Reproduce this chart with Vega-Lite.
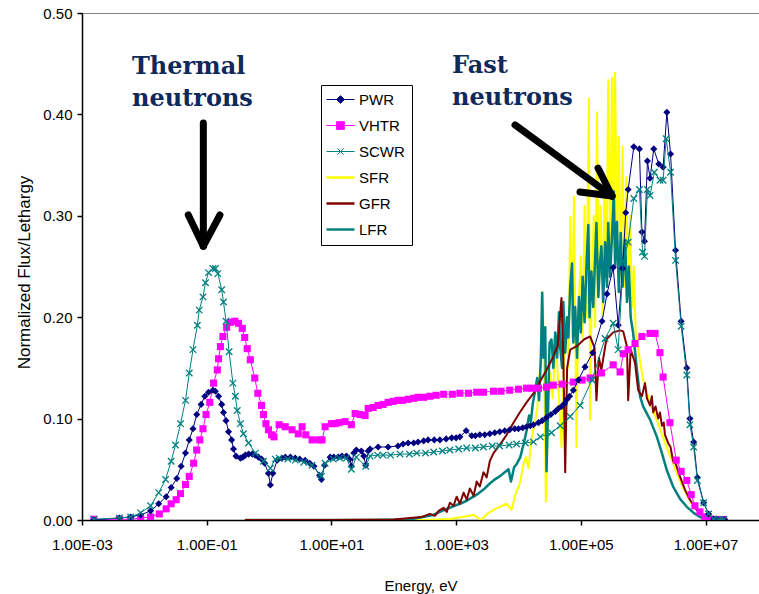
{
  "$schema": "https://vega.github.io/schema/vega-lite/v6.json",
  "width": 677,
  "height": 507,
  "autosize": "none",
  "padding": {"left": 82, "top": 13, "right": 0, "bottom": 74},
  "background": "white",
  "config": {
    "font": "Liberation Sans",
    "view": {"stroke": "#808080", "strokeWidth": 1},
    "axis": {"grid": false, "domainColor": "black", "tickColor": "black", "labelColor": "black", "titleColor": "black", "labelFont": "Liberation Sans", "titleFont": "Liberation Sans", "labelFontSize": 15, "titleFontSize": 15, "titleFontWeight": "normal", "tickSize": 5, "domainWidth": 1.5, "tickWidth": 1.5}
  },
  "datasets": {
    "flux": [
      {"s":"SFR","E":0.41,"y":0},{"s":"SFR","E":316,"y":0},{"s":"SFR","E":794,"y":0.001},{"s":"SFR","E":1260,"y":0.003},{"s":"SFR","E":1910,"y":0.005},{"s":"SFR","E":2510,"y":0},{"s":"SFR","E":3160,"y":0.006},{"s":"SFR","E":3980,"y":0.010},{"s":"SFR","E":5010,"y":0.013},{"s":"SFR","E":6460,"y":0.016},{"s":"SFR","E":7760,"y":0.010},{"s":"SFR","E":8910,"y":0.025},{"s":"SFR","E":10500,"y":0.036},{"s":"SFR","E":12000,"y":0.055},{"s":"SFR","E":13200,"y":0.062},{"s":"SFR","E":14500,"y":0.051},{"s":"SFR","E":16200,"y":0.080},{"s":"SFR","E":18200,"y":0.095},{"s":"SFR","E":20000,"y":0.110},{"s":"SFR","E":22400,"y":0.155},{"s":"SFR","E":24500,"y":0.225},{"s":"SFR","E":26300,"y":0.110},{"s":"SFR","E":27500,"y":0.018},{"s":"SFR","E":29500,"y":0.090},{"s":"SFR","E":32400,"y":0.145},{"s":"SFR","E":35500,"y":0.120},{"s":"SFR","E":39800,"y":0.180},{"s":"SFR","E":43700,"y":0.130},{"s":"SFR","E":49000,"y":0.072},{"s":"SFR","E":53700,"y":0.160},{"s":"SFR","E":58900,"y":0.200},{"s":"SFR","E":63100,"y":0.150},{"s":"SFR","E":67600,"y":0.299},{"s":"SFR","E":72400,"y":0.180},{"s":"SFR","E":77600,"y":0.319},{"s":"SFR","E":81300,"y":0.200},{"s":"SFR","E":85100,"y":0.072},{"s":"SFR","E":91200,"y":0.200},{"s":"SFR","E":100000,"y":0.260},{"s":"SFR","E":107000,"y":0.180},{"s":"SFR","E":115000,"y":0.310},{"s":"SFR","E":123000,"y":0.200},{"s":"SFR","E":135000,"y":0.416},{"s":"SFR","E":141000,"y":0.099},{"s":"SFR","E":151000,"y":0.250},{"s":"SFR","E":162000,"y":0.300},{"s":"SFR","E":170000,"y":0.190},{"s":"SFR","E":182000,"y":0.402},{"s":"SFR","E":195000,"y":0.220},{"s":"SFR","E":209000,"y":0.310},{"s":"SFR","E":224000,"y":0.200},{"s":"SFR","E":240000,"y":0.330},{"s":"SFR","E":257000,"y":0.240},{"s":"SFR","E":275000,"y":0.434},{"s":"SFR","E":295000,"y":0.260},{"s":"SFR","E":316000,"y":0.436},{"s":"SFR","E":331000,"y":0.270},{"s":"SFR","E":355000,"y":0.441},{"s":"SFR","E":380000,"y":0.260},{"s":"SFR","E":407000,"y":0.378},{"s":"SFR","E":437000,"y":0.240},{"s":"SFR","E":468000,"y":0.368},{"s":"SFR","E":501000,"y":0.230},{"s":"SFR","E":537000,"y":0.338},{"s":"SFR","E":575000,"y":0.220},{"s":"SFR","E":617000,"y":0.300},{"s":"SFR","E":661000,"y":0.210},{"s":"SFR","E":708000,"y":0.250},{"s":"SFR","E":759000,"y":0.185},{"s":"SFR","E":832000,"y":0.168},{"s":"SFR","E":1000000,"y":0.138},{"s":"SFR","E":1290000,"y":0.115},{"s":"SFR","E":1740000,"y":0.095},{"s":"SFR","E":2240000,"y":0.076},{"s":"SFR","E":2880000,"y":0.059},{"s":"SFR","E":3630000,"y":0.043},{"s":"SFR","E":4680000,"y":0.028},{"s":"SFR","E":6030000,"y":0.016},{"s":"SFR","E":7760000,"y":0.008},{"s":"SFR","E":9770000,"y":0.003},{"s":"SFR","E":11700000,"y":0.001},{"s":"SFR","E":14100000,"y":0},

      {"s":"LFR","E":0.41,"y":0},{"s":"LFR","E":31.6,"y":0},{"s":"LFR","E":182,"y":0.0005},{"s":"LFR","E":427,"y":0.005},{"s":"LFR","E":708,"y":0.011},{"s":"LFR","E":1150,"y":0.016},{"s":"LFR","E":1480,"y":0.019},{"s":"LFR","E":1780,"y":0.022},{"s":"LFR","E":2140,"y":0.025},{"s":"LFR","E":2750,"y":0.030},{"s":"LFR","E":3470,"y":0.036},{"s":"LFR","E":4170,"y":0.040},{"s":"LFR","E":5010,"y":0.043},{"s":"LFR","E":6030,"y":0.047},{"s":"LFR","E":6920,"y":0.050},{"s":"LFR","E":7590,"y":0.038},{"s":"LFR","E":8510,"y":0.052},{"s":"LFR","E":9330,"y":0.055},{"s":"LFR","E":10700,"y":0.062},{"s":"LFR","E":12000,"y":0.074},{"s":"LFR","E":13500,"y":0.088},{"s":"LFR","E":14800,"y":0.103},{"s":"LFR","E":15800,"y":0.097},{"s":"LFR","E":17000,"y":0.115},{"s":"LFR","E":18600,"y":0.128},{"s":"LFR","E":20000,"y":0.140},{"s":"LFR","E":21400,"y":0.118},{"s":"LFR","E":22900,"y":0.160},{"s":"LFR","E":24000,"y":0.224},{"s":"LFR","E":25100,"y":0.160},{"s":"LFR","E":26900,"y":0.190},{"s":"LFR","E":28200,"y":0.048},{"s":"LFR","E":29500,"y":0.100},{"s":"LFR","E":31600,"y":0.175},{"s":"LFR","E":33900,"y":0.178},{"s":"LFR","E":36300,"y":0.150},{"s":"LFR","E":38900,"y":0.185},{"s":"LFR","E":41700,"y":0.160},{"s":"LFR","E":44700,"y":0.205},{"s":"LFR","E":46800,"y":0.170},{"s":"LFR","E":50100,"y":0.150},{"s":"LFR","E":52500,"y":0.215},{"s":"LFR","E":56200,"y":0.165},{"s":"LFR","E":60300,"y":0.200},{"s":"LFR","E":63100,"y":0.180},{"s":"LFR","E":67600,"y":0.230},{"s":"LFR","E":72400,"y":0.253},{"s":"LFR","E":75900,"y":0.175},{"s":"LFR","E":81300,"y":0.210},{"s":"LFR","E":87100,"y":0.160},{"s":"LFR","E":93300,"y":0.220},{"s":"LFR","E":100000,"y":0.185},{"s":"LFR","E":107000,"y":0.240},{"s":"LFR","E":115000,"y":0.195},{"s":"LFR","E":123000,"y":0.250},{"s":"LFR","E":132000,"y":0.291},{"s":"LFR","E":138000,"y":0.200},{"s":"LFR","E":148000,"y":0.245},{"s":"LFR","E":158000,"y":0.210},{"s":"LFR","E":170000,"y":0.260},{"s":"LFR","E":178000,"y":0.293},{"s":"LFR","E":191000,"y":0.220},{"s":"LFR","E":204000,"y":0.255},{"s":"LFR","E":214000,"y":0.270},{"s":"LFR","E":229000,"y":0.215},{"s":"LFR","E":245000,"y":0.274},{"s":"LFR","E":263000,"y":0.230},{"s":"LFR","E":275000,"y":0.293},{"s":"LFR","E":295000,"y":0.240},{"s":"LFR","E":316000,"y":0.280},{"s":"LFR","E":339000,"y":0.324},{"s":"LFR","E":355000,"y":0.250},{"s":"LFR","E":380000,"y":0.294},{"s":"LFR","E":407000,"y":0.225},{"s":"LFR","E":437000,"y":0.283},{"s":"LFR","E":468000,"y":0.230},{"s":"LFR","E":513000,"y":0.276},{"s":"LFR","E":550000,"y":0.215},{"s":"LFR","E":589000,"y":0.250},{"s":"LFR","E":631000,"y":0.200},{"s":"LFR","E":692000,"y":0.184},{"s":"LFR","E":794000,"y":0.148},{"s":"LFR","E":891000,"y":0.122},{"s":"LFR","E":1000000,"y":0.112},{"s":"LFR","E":1290000,"y":0.099},{"s":"LFR","E":1660000,"y":0.082},{"s":"LFR","E":2000000,"y":0.066},{"s":"LFR","E":2400000,"y":0.049},{"s":"LFR","E":3020000,"y":0.033},{"s":"LFR","E":3890000,"y":0.021},{"s":"LFR","E":5010000,"y":0.013},{"s":"LFR","E":6460000,"y":0.007},{"s":"LFR","E":8130000,"y":0.003},{"s":"LFR","E":10500000,"y":0.001},{"s":"LFR","E":14100000,"y":0},

      {"s":"GFR","E":0.41,"y":0},{"s":"GFR","E":10,"y":0},{"s":"GFR","E":100,"y":0.0005},{"s":"GFR","E":182,"y":0.002},{"s":"GFR","E":282,"y":0.003},{"s":"GFR","E":380,"y":0.006},{"s":"GFR","E":457,"y":0.004},{"s":"GFR","E":525,"y":0.009},{"s":"GFR","E":631,"y":0.012},{"s":"GFR","E":708,"y":0.008},{"s":"GFR","E":794,"y":0.017},{"s":"GFR","E":912,"y":0.014},{"s":"GFR","E":1020,"y":0.023},{"s":"GFR","E":1150,"y":0.016},{"s":"GFR","E":1320,"y":0.027},{"s":"GFR","E":1480,"y":0.020},{"s":"GFR","E":1660,"y":0.031},{"s":"GFR","E":1910,"y":0.024},{"s":"GFR","E":2140,"y":0.038},{"s":"GFR","E":2400,"y":0.033},{"s":"GFR","E":2750,"y":0.047},{"s":"GFR","E":3090,"y":0.042},{"s":"GFR","E":3470,"y":0.058},{"s":"GFR","E":3980,"y":0.066},{"s":"GFR","E":5010,"y":0.074},{"s":"GFR","E":6460,"y":0.084},{"s":"GFR","E":8320,"y":0.096},{"s":"GFR","E":10500,"y":0.106},{"s":"GFR","E":13500,"y":0.116},{"s":"GFR","E":17400,"y":0.125},{"s":"GFR","E":22400,"y":0.137},{"s":"GFR","E":28200,"y":0.148},{"s":"GFR","E":35500,"y":0.160},{"s":"GFR","E":42700,"y":0.172},{"s":"GFR","E":49000,"y":0.219},{"s":"GFR","E":52500,"y":0.160},{"s":"GFR","E":56200,"y":0.047},{"s":"GFR","E":60300,"y":0.150},{"s":"GFR","E":67600,"y":0.168},{"s":"GFR","E":89100,"y":0.172},{"s":"GFR","E":112000,"y":0.178},{"s":"GFR","E":141000,"y":0.181},{"s":"GFR","E":166000,"y":0.170},{"s":"GFR","E":178000,"y":0.118},{"s":"GFR","E":195000,"y":0.160},{"s":"GFR","E":214000,"y":0.148},{"s":"GFR","E":257000,"y":0.178},{"s":"GFR","E":331000,"y":0.185},{"s":"GFR","E":427000,"y":0.187},{"s":"GFR","E":479000,"y":0.186},{"s":"GFR","E":550000,"y":0.171},{"s":"GFR","E":575000,"y":0.118},{"s":"GFR","E":631000,"y":0.168},{"s":"GFR","E":741000,"y":0.155},{"s":"GFR","E":832000,"y":0.128},{"s":"GFR","E":955000,"y":0.122},{"s":"GFR","E":1070000,"y":0.135},{"s":"GFR","E":1150000,"y":0.120},{"s":"GFR","E":1290000,"y":0.113},{"s":"GFR","E":1380000,"y":0.122},{"s":"GFR","E":1450000,"y":0.106},{"s":"GFR","E":1580000,"y":0.112},{"s":"GFR","E":1740000,"y":0.100},{"s":"GFR","E":1860000,"y":0.106},{"s":"GFR","E":2000000,"y":0.093},{"s":"GFR","E":2140000,"y":0.096},{"s":"GFR","E":2240000,"y":0.084},{"s":"GFR","E":2510000,"y":0.076},{"s":"GFR","E":2750000,"y":0.072},{"s":"GFR","E":3020000,"y":0.058},{"s":"GFR","E":3310000,"y":0.056},{"s":"GFR","E":3890000,"y":0.043},{"s":"GFR","E":4680000,"y":0.030},{"s":"GFR","E":5620000,"y":0.020},{"s":"GFR","E":7240000,"y":0.010},{"s":"GFR","E":9330000,"y":0.003},{"s":"GFR","E":11700000,"y":0.0007},{"s":"GFR","E":15800000,"y":0},

      {"s":"VHTR","E":0.00155,"y":0.0007},{"s":"VHTR","E":0.00398,"y":0.0007},{"s":"VHTR","E":0.00603,"y":0.0007},{"s":"VHTR","E":0.00871,"y":0.002},{"s":"VHTR","E":0.0126,"y":0.003},{"s":"VHTR","E":0.0174,"y":0.006},{"s":"VHTR","E":0.0224,"y":0.011},{"s":"VHTR","E":0.0269,"y":0.016},{"s":"VHTR","E":0.0324,"y":0.020},{"s":"VHTR","E":0.0380,"y":0.026},{"s":"VHTR","E":0.0457,"y":0.035},{"s":"VHTR","E":0.0525,"y":0.043},{"s":"VHTR","E":0.0617,"y":0.056},{"s":"VHTR","E":0.0692,"y":0.069},{"s":"VHTR","E":0.0776,"y":0.079},{"s":"VHTR","E":0.0871,"y":0.090},{"s":"VHTR","E":0.0977,"y":0.104},{"s":"VHTR","E":0.112,"y":0.116},{"s":"VHTR","E":0.129,"y":0.135},{"s":"VHTR","E":0.148,"y":0.148},{"s":"VHTR","E":0.155,"y":0.159},{"s":"VHTR","E":0.166,"y":0.171},{"s":"VHTR","E":0.182,"y":0.181},{"s":"VHTR","E":0.209,"y":0.190},{"s":"VHTR","E":0.240,"y":0.195},{"s":"VHTR","E":0.282,"y":0.196},{"s":"VHTR","E":0.324,"y":0.194},{"s":"VHTR","E":0.372,"y":0.189},{"s":"VHTR","E":0.407,"y":0.180},{"s":"VHTR","E":0.447,"y":0.169},{"s":"VHTR","E":0.501,"y":0.158},{"s":"VHTR","E":0.589,"y":0.140},{"s":"VHTR","E":0.661,"y":0.125},{"s":"VHTR","E":0.759,"y":0.113},{"s":"VHTR","E":0.813,"y":0.104},{"s":"VHTR","E":0.891,"y":0.095},{"s":"VHTR","E":0.977,"y":0.089},{"s":"VHTR","E":1.10,"y":0.084},{"s":"VHTR","E":1.20,"y":0.082},{"s":"VHTR","E":1.45,"y":0.094},{"s":"VHTR","E":1.82,"y":0.092},{"s":"VHTR","E":2.34,"y":0.089},{"s":"VHTR","E":2.95,"y":0.085},{"s":"VHTR","E":3.39,"y":0.092},{"s":"VHTR","E":3.89,"y":0.084},{"s":"VHTR","E":4.90,"y":0.079},{"s":"VHTR","E":6.31,"y":0.079},{"s":"VHTR","E":7.08,"y":0.079},{"s":"VHTR","E":7.94,"y":0.092},{"s":"VHTR","E":10.0,"y":0.095},{"s":"VHTR","E":11.5,"y":0.095},{"s":"VHTR","E":13.2,"y":0.096},{"s":"VHTR","E":16.6,"y":0.097},{"s":"VHTR","E":20.9,"y":0.094},{"s":"VHTR","E":24.0,"y":0.105},{"s":"VHTR","E":28.8,"y":0.104},{"s":"VHTR","E":34.7,"y":0.103},{"s":"VHTR","E":38.9,"y":0.110},{"s":"VHTR","E":46.8,"y":0.111},{"s":"VHTR","E":56.2,"y":0.113},{"s":"VHTR","E":67.6,"y":0.114},{"s":"VHTR","E":81.3,"y":0.116},{"s":"VHTR","E":97.7,"y":0.117},{"s":"VHTR","E":117,"y":0.118},{"s":"VHTR","E":138,"y":0.118},{"s":"VHTR","E":170,"y":0.119},{"s":"VHTR","E":209,"y":0.120},{"s":"VHTR","E":245,"y":0.121},{"s":"VHTR","E":302,"y":0.121},{"s":"VHTR","E":380,"y":0.122},{"s":"VHTR","E":479,"y":0.123},{"s":"VHTR","E":631,"y":0.124},{"s":"VHTR","E":871,"y":0.124},{"s":"VHTR","E":1150,"y":0.125},{"s":"VHTR","E":1580,"y":0.125},{"s":"VHTR","E":2140,"y":0.126},{"s":"VHTR","E":2750,"y":0.126},{"s":"VHTR","E":3980,"y":0.127},{"s":"VHTR","E":5250,"y":0.127},{"s":"VHTR","E":7240,"y":0.128},{"s":"VHTR","E":10000,"y":0.129},{"s":"VHTR","E":13500,"y":0.130},{"s":"VHTR","E":16600,"y":0.130},{"s":"VHTR","E":20900,"y":0.130},{"s":"VHTR","E":28200,"y":0.131},{"s":"VHTR","E":36300,"y":0.133},{"s":"VHTR","E":50100,"y":0.134},{"s":"VHTR","E":75900,"y":0.136},{"s":"VHTR","E":105000,"y":0.138},{"s":"VHTR","E":141000,"y":0.140},{"s":"VHTR","E":214000,"y":0.145},{"s":"VHTR","E":331000,"y":0.153},{"s":"VHTR","E":427000,"y":0.146},{"s":"VHTR","E":479000,"y":0.164},{"s":"VHTR","E":575000,"y":0.168},{"s":"VHTR","E":741000,"y":0.174},{"s":"VHTR","E":955000,"y":0.181},{"s":"VHTR","E":1290000,"y":0.184},{"s":"VHTR","E":1550000,"y":0.184},{"s":"VHTR","E":1860000,"y":0.165},{"s":"VHTR","E":2090000,"y":0.141},{"s":"VHTR","E":2690000,"y":0.096},{"s":"VHTR","E":3390000,"y":0.059},{"s":"VHTR","E":4070000,"y":0.048},{"s":"VHTR","E":5010000,"y":0.039},{"s":"VHTR","E":5890000,"y":0.025},{"s":"VHTR","E":6760000,"y":0.014},{"s":"VHTR","E":8130000,"y":0.008},{"s":"VHTR","E":9770000,"y":0.003},{"s":"VHTR","E":11700000,"y":0.001},{"s":"VHTR","E":15100000,"y":0.0005},{"s":"VHTR","E":19500000,"y":0.0005},

      {"s":"PWR","E":0.00155,"y":0},{"s":"PWR","E":0.00398,"y":0.002},{"s":"PWR","E":0.00603,"y":0.003},{"s":"PWR","E":0.00871,"y":0.005},{"s":"PWR","E":0.0126,"y":0.009},{"s":"PWR","E":0.0170,"y":0.016},{"s":"PWR","E":0.0224,"y":0.023},{"s":"PWR","E":0.0269,"y":0.032},{"s":"PWR","E":0.0331,"y":0.041},{"s":"PWR","E":0.0389,"y":0.053},{"s":"PWR","E":0.0457,"y":0.066},{"s":"PWR","E":0.0525,"y":0.079},{"s":"PWR","E":0.0603,"y":0.090},{"s":"PWR","E":0.0692,"y":0.104},{"s":"PWR","E":0.0813,"y":0.114},{"s":"PWR","E":0.0933,"y":0.122},{"s":"PWR","E":0.107,"y":0.126},{"s":"PWR","E":0.126,"y":0.128},{"s":"PWR","E":0.138,"y":0.127},{"s":"PWR","E":0.155,"y":0.122},{"s":"PWR","E":0.174,"y":0.114},{"s":"PWR","E":0.186,"y":0.106},{"s":"PWR","E":0.204,"y":0.098},{"s":"PWR","E":0.224,"y":0.087},{"s":"PWR","E":0.251,"y":0.079},{"s":"PWR","E":0.269,"y":0.070},{"s":"PWR","E":0.295,"y":0.063},{"s":"PWR","E":0.347,"y":0.061},{"s":"PWR","E":0.380,"y":0.062},{"s":"PWR","E":0.417,"y":0.064},{"s":"PWR","E":0.470,"y":0.065},{"s":"PWR","E":0.537,"y":0.065},{"s":"PWR","E":0.600,"y":0.064},{"s":"PWR","E":0.676,"y":0.062},{"s":"PWR","E":0.760,"y":0.060},{"s":"PWR","E":0.851,"y":0.056},{"s":"PWR","E":0.977,"y":0.046},{"s":"PWR","E":1.05,"y":0.0345},{"s":"PWR","E":1.15,"y":0.046},{"s":"PWR","E":1.35,"y":0.059},{"s":"PWR","E":1.60,"y":0.061},{"s":"PWR","E":1.82,"y":0.062},{"s":"PWR","E":2.20,"y":0.062},{"s":"PWR","E":2.63,"y":0.061},{"s":"PWR","E":3.10,"y":0.060},{"s":"PWR","E":3.80,"y":0.059},{"s":"PWR","E":4.50,"y":0.056},{"s":"PWR","E":5.25,"y":0.053},{"s":"PWR","E":6.46,"y":0.044},{"s":"PWR","E":6.92,"y":0.040},{"s":"PWR","E":7.76,"y":0.054},{"s":"PWR","E":9.55,"y":0.062},{"s":"PWR","E":10.9,"y":0.062},{"s":"PWR","E":12.9,"y":0.062},{"s":"PWR","E":14.8,"y":0.063},{"s":"PWR","E":17.4,"y":0.063},{"s":"PWR","E":19.5,"y":0.060},{"s":"PWR","E":20.9,"y":0.053},{"s":"PWR","E":22.9,"y":0.066},{"s":"PWR","E":25.1,"y":0.069},{"s":"PWR","E":30.2,"y":0.068},{"s":"PWR","E":33.1,"y":0.063},{"s":"PWR","E":35.5,"y":0.054},{"s":"PWR","E":38.9,"y":0.068},{"s":"PWR","E":41.7,"y":0.070},{"s":"PWR","E":56.2,"y":0.072},{"s":"PWR","E":81.3,"y":0.072},{"s":"PWR","E":117,"y":0.073},{"s":"PWR","E":141,"y":0.075},{"s":"PWR","E":170,"y":0.076},{"s":"PWR","E":209,"y":0.076},{"s":"PWR","E":245,"y":0.077},{"s":"PWR","E":302,"y":0.078},{"s":"PWR","E":355,"y":0.079},{"s":"PWR","E":447,"y":0.079},{"s":"PWR","E":550,"y":0.079},{"s":"PWR","E":692,"y":0.080},{"s":"PWR","E":851,"y":0.081},{"s":"PWR","E":1000,"y":0.081},{"s":"PWR","E":1150,"y":0.082},{"s":"PWR","E":1450,"y":0.088},{"s":"PWR","E":1780,"y":0.083},{"s":"PWR","E":2040,"y":0.083},{"s":"PWR","E":2400,"y":0.084},{"s":"PWR","E":2880,"y":0.084},{"s":"PWR","E":3470,"y":0.085},{"s":"PWR","E":4170,"y":0.086},{"s":"PWR","E":5010,"y":0.087},{"s":"PWR","E":6030,"y":0.088},{"s":"PWR","E":7240,"y":0.089},{"s":"PWR","E":8710,"y":0.090},{"s":"PWR","E":10000,"y":0.090},{"s":"PWR","E":11700,"y":0.091},{"s":"PWR","E":13500,"y":0.092},{"s":"PWR","E":15500,"y":0.093},{"s":"PWR","E":17400,"y":0.094},{"s":"PWR","E":20900,"y":0.096},{"s":"PWR","E":24000,"y":0.098},{"s":"PWR","E":28200,"y":0.101},{"s":"PWR","E":33100,"y":0.104},{"s":"PWR","E":38900,"y":0.107},{"s":"PWR","E":43700,"y":0.110},{"s":"PWR","E":49000,"y":0.112},{"s":"PWR","E":55000,"y":0.115},{"s":"PWR","E":60300,"y":0.119},{"s":"PWR","E":66100,"y":0.122},{"s":"PWR","E":75900,"y":0.128},{"s":"PWR","E":91200,"y":0.138},{"s":"PWR","E":117000,"y":0.151},{"s":"PWR","E":155000,"y":0.165},{"s":"PWR","E":219000,"y":0.196},{"s":"PWR","E":263000,"y":0.223},{"s":"PWR","E":331000,"y":0.249},{"s":"PWR","E":398000,"y":0.192},{"s":"PWR","E":468000,"y":0.248},{"s":"PWR","E":525000,"y":0.303},{"s":"PWR","E":575000,"y":0.326},{"s":"PWR","E":708000,"y":0.368},{"s":"PWR","E":871000,"y":0.366},{"s":"PWR","E":955000,"y":0.284},{"s":"PWR","E":1050000,"y":0.275},{"s":"PWR","E":1170000,"y":0.354},{"s":"PWR","E":1290000,"y":0.337},{"s":"PWR","E":1480000,"y":0.366},{"s":"PWR","E":1780000,"y":0.351},{"s":"PWR","E":2090000,"y":0.348},{"s":"PWR","E":2400000,"y":0.402},{"s":"PWR","E":2750000,"y":0.361},{"s":"PWR","E":3310000,"y":0.266},{"s":"PWR","E":4070000,"y":0.196},{"s":"PWR","E":5010000,"y":0.150},{"s":"PWR","E":5620000,"y":0.100},{"s":"PWR","E":6460000,"y":0.077},{"s":"PWR","E":7410000,"y":0.042},{"s":"PWR","E":9330000,"y":0.017},{"s":"PWR","E":11200000,"y":0.006},{"s":"PWR","E":13500000,"y":0.001},{"s":"PWR","E":15800000,"y":0.0005},{"s":"PWR","E":20400000,"y":0.0005},

      {"s":"SCWR","E":0.00155,"y":0.0007},{"s":"SCWR","E":0.00398,"y":0.002},{"s":"SCWR","E":0.00603,"y":0.003},{"s":"SCWR","E":0.00871,"y":0.007},{"s":"SCWR","E":0.0126,"y":0.014},{"s":"SCWR","E":0.0170,"y":0.027},{"s":"SCWR","E":0.0219,"y":0.040},{"s":"SCWR","E":0.0269,"y":0.058},{"s":"SCWR","E":0.0316,"y":0.074},{"s":"SCWR","E":0.0380,"y":0.095},{"s":"SCWR","E":0.0457,"y":0.118},{"s":"SCWR","E":0.0525,"y":0.145},{"s":"SCWR","E":0.0603,"y":0.168},{"s":"SCWR","E":0.0708,"y":0.192},{"s":"SCWR","E":0.0759,"y":0.207},{"s":"SCWR","E":0.0871,"y":0.220},{"s":"SCWR","E":0.0955,"y":0.234},{"s":"SCWR","E":0.107,"y":0.244},{"s":"SCWR","E":0.126,"y":0.248},{"s":"SCWR","E":0.138,"y":0.248},{"s":"SCWR","E":0.151,"y":0.243},{"s":"SCWR","E":0.174,"y":0.227},{"s":"SCWR","E":0.186,"y":0.215},{"s":"SCWR","E":0.204,"y":0.196},{"s":"SCWR","E":0.229,"y":0.166},{"s":"SCWR","E":0.263,"y":0.135},{"s":"SCWR","E":0.288,"y":0.122},{"s":"SCWR","E":0.309,"y":0.108},{"s":"SCWR","E":0.347,"y":0.095},{"s":"SCWR","E":0.389,"y":0.085},{"s":"SCWR","E":0.468,"y":0.076},{"s":"SCWR","E":0.603,"y":0.066},{"s":"SCWR","E":0.813,"y":0.058},{"s":"SCWR","E":1.05,"y":0.051},{"s":"SCWR","E":1.26,"y":0.060},{"s":"SCWR","E":1.45,"y":0.061},{"s":"SCWR","E":2.00,"y":0.060},{"s":"SCWR","E":2.63,"y":0.059},{"s":"SCWR","E":3.60,"y":0.057},{"s":"SCWR","E":4.90,"y":0.054},{"s":"SCWR","E":6.61,"y":0.045},{"s":"SCWR","E":6.92,"y":0.043},{"s":"SCWR","E":7.94,"y":0.056},{"s":"SCWR","E":10.7,"y":0.060},{"s":"SCWR","E":13.5,"y":0.061},{"s":"SCWR","E":17.4,"y":0.061},{"s":"SCWR","E":20.9,"y":0.050},{"s":"SCWR","E":25.1,"y":0.062},{"s":"SCWR","E":35.5,"y":0.053},{"s":"SCWR","E":41.7,"y":0.063},{"s":"SCWR","E":55.0,"y":0.064},{"s":"SCWR","E":67.6,"y":0.064},{"s":"SCWR","E":89.0,"y":0.064},{"s":"SCWR","E":126,"y":0.065},{"s":"SCWR","E":178,"y":0.065},{"s":"SCWR","E":234,"y":0.066},{"s":"SCWR","E":324,"y":0.066},{"s":"SCWR","E":437,"y":0.067},{"s":"SCWR","E":603,"y":0.068},{"s":"SCWR","E":794,"y":0.069},{"s":"SCWR","E":1100,"y":0.070},{"s":"SCWR","E":1480,"y":0.071},{"s":"SCWR","E":2040,"y":0.071},{"s":"SCWR","E":2750,"y":0.072},{"s":"SCWR","E":3800,"y":0.073},{"s":"SCWR","E":5010,"y":0.073},{"s":"SCWR","E":7080,"y":0.074},{"s":"SCWR","E":9330,"y":0.075},{"s":"SCWR","E":12900,"y":0.076},{"s":"SCWR","E":17400,"y":0.077},{"s":"SCWR","E":22400,"y":0.082},{"s":"SCWR","E":33900,"y":0.086},{"s":"SCWR","E":46800,"y":0.093},{"s":"SCWR","E":67600,"y":0.102},{"s":"SCWR","E":97700,"y":0.113},{"s":"SCWR","E":151000,"y":0.138},{"s":"SCWR","E":245000,"y":0.179},{"s":"SCWR","E":331000,"y":0.194},{"s":"SCWR","E":398000,"y":0.168},{"s":"SCWR","E":479000,"y":0.255},{"s":"SCWR","E":575000,"y":0.274},{"s":"SCWR","E":708000,"y":0.317},{"s":"SCWR","E":871000,"y":0.326},{"s":"SCWR","E":977000,"y":0.264},{"s":"SCWR","E":1050000,"y":0.260},{"s":"SCWR","E":1170000,"y":0.326},{"s":"SCWR","E":1290000,"y":0.320},{"s":"SCWR","E":1510000,"y":0.343},{"s":"SCWR","E":1860000,"y":0.335},{"s":"SCWR","E":2090000,"y":0.335},{"s":"SCWR","E":2340000,"y":0.376},{"s":"SCWR","E":2750000,"y":0.343},{"s":"SCWR","E":3310000,"y":0.256},{"s":"SCWR","E":4070000,"y":0.191},{"s":"SCWR","E":5010000,"y":0.143},{"s":"SCWR","E":5620000,"y":0.094},{"s":"SCWR","E":6460000,"y":0.072},{"s":"SCWR","E":7410000,"y":0.039},{"s":"SCWR","E":9330000,"y":0.017},{"s":"SCWR","E":11200000,"y":0.006},{"s":"SCWR","E":13500000,"y":0.001},{"s":"SCWR","E":16600000,"y":0.0005},{"s":"SCWR","E":19500000,"y":0.0005}
    ],
    "arrows": [
      {"E":0.0883,"y":0.3915,"E2":0.0883,"y2":0.27},
      {"E":0.0507,"y":0.3008,"E2":0.0883,"y2":0.27},
      {"E":0.163,"y":0.3008,"E2":0.0883,"y2":0.27},
      {"E":8810,"y":0.3896,"E2":316000,"y2":0.3195},
      {"E":188800,"y":0.3471,"E2":316000,"y2":0.3195},
      {"E":97000,"y":0.3235,"E2":316000,"y2":0.3195}
    ],
    "notes": [
      {"E":0.00634,"y":0.4398,"label":"Thermal"},
      {"E":0.00634,"y":0.4083,"label":"neutrons"},
      {"E":859,"y":0.4408,"label":"Fast"},
      {"E":859,"y":0.4093,"label":"neutrons"}
    ]
  },
  "encoding": {
    "x": {"field": "E", "type": "quantitative", "title": "Energy, eV",
      "scale": {"type": "log", "domain": [0.001, 72100000], "nice": false, "zero": false},
      "axis": {"values": [0.001, 0.1, 10, 1000, 100000, 10000000], "labelExpr": "'1.00E' + (round(log(datum.value)/LN10) < 0 ? '-' : '+') + (abs(round(log(datum.value)/LN10)) < 10 ? '0' : '') + abs(round(log(datum.value)/LN10))", "labelPadding": 12, "titlePadding": 26, "labelFlush": false, "labelOverlap": false}},
    "y": {"field": "y", "type": "quantitative", "title": "Normalized Flux/Lethargy",
      "scale": {"domain": [0, 0.5], "nice": false},
      "axis": {"values": [0, 0.1, 0.2, 0.3, 0.4, 0.5], "format": ".2f", "labelPadding": 5, "titlePadding": 9, "titleFontSize": 17, "titleY": 259}}
  },
  "layer": [
    {
      "data": {"name": "flux"},
      "encoding": {
        "color": {"field": "s", "type": "nominal",
          "scale": {"domain": ["PWR", "VHTR", "SCWR", "SFR", "GFR", "LFR"], "range": ["#000080", "#FF00FF", "#008080", "#FFFF00", "#800000", "#008080"]},
          "legend": {"title": null, "orient": "none", "legendX": 239, "legendY": 72, "strokeColor": "black", "padding": 7, "labelFont": "Liberation Sans", "labelFontSize": 15, "labelColor": "black", "symbolSize": 196, "symbolType": "stroke", "symbolOffset": 5, "labelOffset": 11, "rowPadding": 10, "fillColor": "white",
            "encode": {"symbols": {"update": {
              "shape": {"signal": "datum.value === 'PWR' ? 'M-2,0H2M0,-0.55L0.55,0L0,0.55L-0.55,0Z' : datum.value === 'VHTR' ? 'M-2,0H2M-0.55,-0.55H0.55V0.55H-0.55Z' : datum.value === 'SCWR' ? 'M-2,0H2M-0.45,-0.45L0.45,0.45M-0.45,0.45L0.45,-0.45' : 'M-2,0H2'"},
              "fill": {"signal": "scale('color', datum.value)"},
              "stroke": {"signal": "scale('color', datum.value)"},
              "strokeWidth": {"signal": "indexof(['SFR','GFR','LFR'], datum.value) >= 0 ? 2.5 : 1"},
              "opacity": {"value": 1}, "fillOpacity": {"value": 1}, "strokeOpacity": {"value": 1}
            }}}}
        }
      },
      "layer": [
        {"transform": [{"filter": "datum.s === 'SFR'"}], "mark": {"type": "line", "strokeWidth": 2, "strokeJoin": "round", "clip": true}},
        {"transform": [{"filter": "datum.s === 'LFR'"}], "mark": {"type": "line", "strokeWidth": 2.5, "strokeJoin": "round", "clip": true}},
        {"transform": [{"filter": "datum.s === 'GFR'"}], "mark": {"type": "line", "strokeWidth": 2, "strokeJoin": "round", "clip": true}},
        {"transform": [{"filter": "datum.s === 'VHTR'"}], "mark": {"type": "line", "strokeWidth": 1, "clip": true}},
        {"transform": [{"filter": "datum.s === 'VHTR'"}], "mark": {"type": "square", "size": 50, "opacity": 1, "clip": true}},
        {"transform": [{"filter": "datum.s === 'PWR'"}], "mark": {"type": "line", "strokeWidth": 1, "clip": true}},
        {"transform": [{"filter": "datum.s === 'PWR'"}], "mark": {"type": "point", "shape": "diamond", "filled": true, "size": 50, "opacity": 1, "clip": true}},
        {"transform": [{"filter": "datum.s === 'SCWR'"}], "mark": {"type": "line", "strokeWidth": 1, "clip": true}},
        {"transform": [{"filter": "datum.s === 'SCWR'"}], "mark": {"type": "point", "shape": "M-1,-1L1,1M-1,1L1,-1", "filled": false, "size": 42, "strokeWidth": 1.3, "opacity": 1, "clip": true}}
      ]
    },
    {
      "data": {"name": "arrows"},
      "mark": {"type": "rule", "strokeWidth": 7, "strokeCap": "round", "color": "black"},
      "encoding": {"x2": {"field": "E2"}, "y2": {"field": "y2"}}
    },
    {
      "data": {"name": "notes"},
      "mark": {"type": "text", "align": "left", "baseline": "alphabetic", "font": "DejaVu Serif", "fontWeight": "bold", "fontSize": 24, "color": "#10295b"},
      "encoding": {"text": {"field": "label"}}
    }
  ]
}
